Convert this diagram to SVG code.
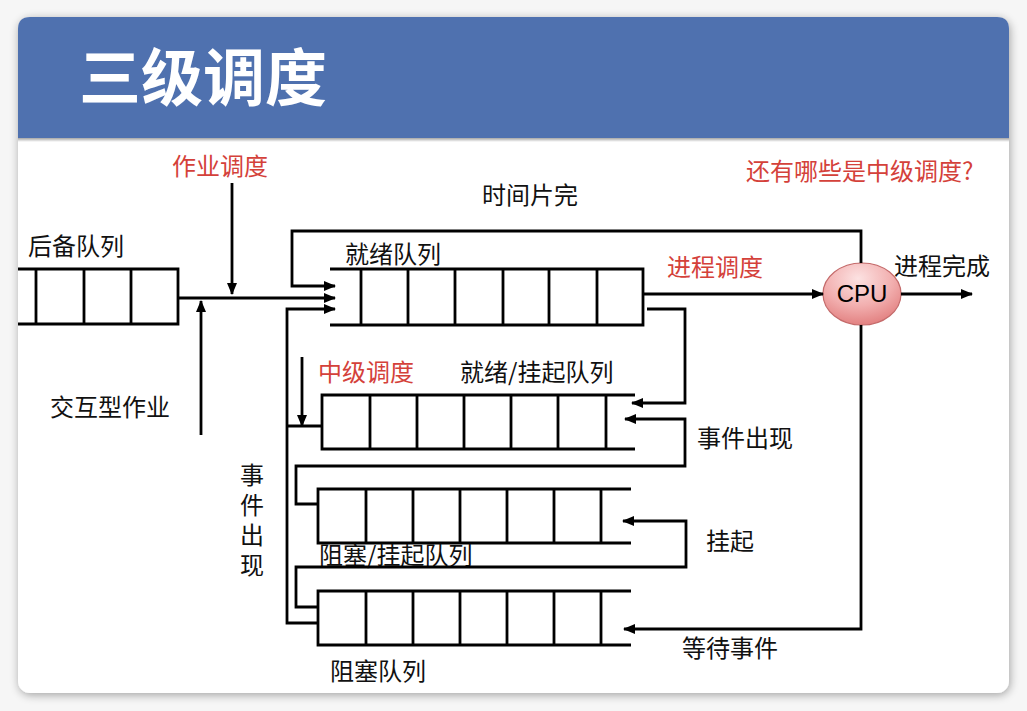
<svg xmlns="http://www.w3.org/2000/svg" width="1027" height="711" viewBox="0 0 1027 711">
<defs>
<style>
.ln{fill:none;stroke:#000;stroke-width:2.8;stroke-linejoin:miter}
.ar{fill:none;stroke:#000;stroke-width:2.8;marker-end:url(#ah)}
.t{font-family:"Noto Sans CJK SC","Noto Sans",sans-serif;font-size:24px;fill:#111}
.r{fill:#D4413A}
</style>
<marker id="ah" markerUnits="userSpaceOnUse" markerWidth="12" markerHeight="10" refX="11" refY="5" orient="auto">
<path d="M0,0 L12,5 L0,10 z" fill="#000"/>
</marker>
<filter id="sh" x="-5%" y="-5%" width="110%" height="110%">
<feGaussianBlur in="SourceAlpha" stdDeviation="5"/>
<feOffset dx="1" dy="2"/>
<feComponentTransfer><feFuncA type="linear" slope="0.35"/></feComponentTransfer>
<feMerge><feMergeNode/><feMergeNode in="SourceGraphic"/></feMerge>
</filter>
<linearGradient id="hs" x1="0" y1="0" x2="0" y2="1">
<stop offset="0" stop-color="#000" stop-opacity="0.35"/>
<stop offset="1" stop-color="#000" stop-opacity="0"/>
</linearGradient>
<radialGradient id="cpu" cx="0.45" cy="0.25" r="0.8">
<stop offset="0" stop-color="#FCE2E2"/>
<stop offset="0.55" stop-color="#F2AFAF"/>
<stop offset="1" stop-color="#E07A7A"/>
</radialGradient>
</defs>
<rect width="1027" height="711" fill="#f6f6f6"/>
<g id="card">
<rect x="18" y="17" width="991" height="676" rx="12" fill="#fff" filter="url(#sh)"/>
<path d="M18,138 V29 Q18,17 30,17 H997 Q1009,17 1009,29 V138 Z" fill="#4F71AF"/>
<rect x="18" y="138" width="991" height="4" fill="url(#hs)"/>
<text x="79" y="101" font-family="'Noto Sans CJK SC','Noto Sans',sans-serif" font-size="62" font-weight="bold" fill="#fff">三级调度</text>
</g>
<g id="backup-queue">
<path class="ln" d="M18,269 H178 V324 H18 M36,269 V324 M84,269 V324 M131,269 V324"/>
<text class="t" x="28" y="255">后备队列</text>
</g>
<g id="ready-queue">
<path class="ln" d="M330,269 H643 V325 H330 M361,269 V325 M408,269 V325 M455,269 V325 M503,269 V325 M549,269 V325 M597,269 V325"/>
<text class="t" x="345" y="263">就绪队列</text>
</g>
<g id="ready-suspend-queue">
<path class="ln" d="M635,395 H322 V449 H635 M370,395 V449 M417,395 V449 M464,395 V449 M511,395 V449 M558,395 V449 M606,395 V449"/>
<text class="t" x="460" y="381">就绪/挂起队列</text>
</g>
<g id="blocked-suspend-queue">
<path class="ln" d="M631,489 H318 V543 H631 M366,489 V543 M413,489 V543 M460,489 V543 M507,489 V543 M554,489 V543 M601,489 V543"/>
<text class="t" x="319" y="564">阻塞/挂起队列</text>
</g>
<g id="blocked-queue">
<path class="ln" d="M631,591 H318 V645 H631 M366,591 V645 M413,591 V645 M460,591 V645 M507,591 V645 M554,591 V645 M601,591 V645"/>
<text class="t" x="330" y="680">阻塞队列</text>
</g>
<g id="cpu-node">
<ellipse cx="862" cy="294" rx="39" ry="31" fill="url(#cpu)" stroke="#C46A6A" stroke-width="1.2"/>
<text x="862" y="302" text-anchor="middle" font-family="'Liberation Sans',Arial,sans-serif" font-size="24" fill="#000">CPU</text>
</g>
<g id="connectors">
<path class="ar" d="M178,298 H335"/>
<path class="ar" d="M232,183 V294"/>
<path class="ar" d="M201,435 V301"/>
<path class="ar" d="M861,263 V231 H292 V286 H335"/>
<path class="ar" d="M643,294 H823"/>
<path class="ar" d="M901,294 H972"/>
<path class="ar" d="M647,309 H685 V403 H632"/>
<path class="ar" d="M861,325 V629 H624"/>
<path class="ar" d="M318,504 H296 V466 H685 V419 H625"/>
<path class="ar" d="M318,607 H296 V567 H686 V521 H623"/>
<path class="ar" d="M318,623 H287 V309 H335"/>
<path class="ln" d="M322,426 H287"/>
<path class="ar" d="M302,357 V426"/>
</g>
<g id="labels">
<text class="t r" x="172" y="175">作业调度</text>
<text class="t" x="50" y="416">交互型作业</text>
<text class="t" x="482" y="204">时间片完</text>
<text class="t r" x="667" y="276">进程调度</text>
<text class="t" x="894" y="275">进程完成</text>
<text class="t r" x="746" y="180">还有哪些是中级调度?</text>
<text class="t r" x="318" y="381">中级调度</text>
<text class="t" x="697" y="447">事件出现</text>
<text class="t" x="706" y="550">挂起</text>
<text class="t" x="682" y="657">等待事件</text>
<text class="t" x="252" y="463" style="writing-mode:vertical-rl" letter-spacing="6">事件出现</text>
</g>
</svg>
